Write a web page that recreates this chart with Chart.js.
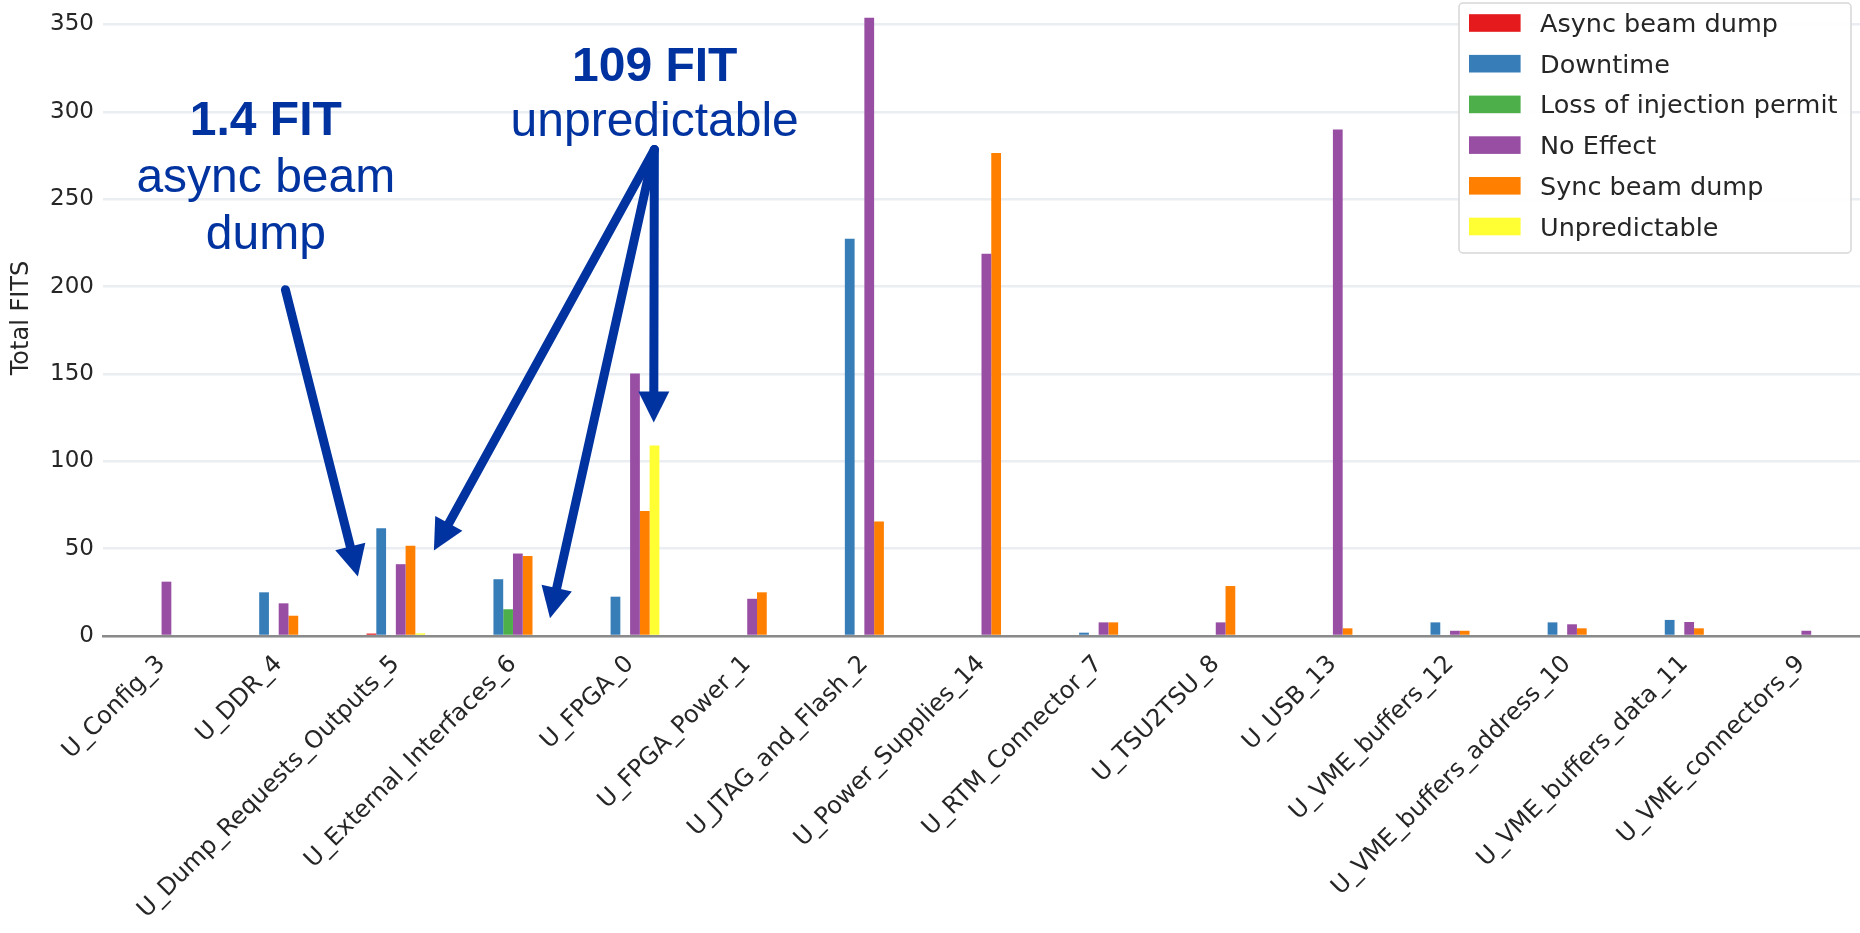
<!DOCTYPE html>
<html>
<head>
<meta charset="utf-8">
<script src="https://cdn.jsdelivr.net/npm/chart.js@4.4.1/dist/chart.umd.min.js"></script>
<style>
  html, body { margin: 0; padding: 0; background: #ffffff; }
  #wrap { width: 1860px; height: 933px; }
</style>
</head>
<body>
<div id="wrap"><canvas id="fits" width="1860" height="933"></canvas></div>
<script>
// Board functional blocks
const categories = [
  'U_Config_3', 'U_DDR_4', 'U_Dump_Requests_Outputs_5', 'U_External_Interfaces_6',
  'U_FPGA_0', 'U_FPGA_Power_1', 'U_JTAG_and_Flash_2', 'U_Power_Supplies_14',
  'U_RTM_Connector_7', 'U_TSU2TSU_8', 'U_USB_13', 'U_VME_buffers_12',
  'U_VME_buffers_address_10', 'U_VME_buffers_data_11', 'U_VME_connectors_9'
];

// Total FITS per failure effect (null = no contribution)
const asyncBeamDump   = [null, null, 1.4, null, null, null, null, null, null, null, null, null, null, null, null];
const downtime        = [null, 25.0, 61.7, 32.5, 22.5, null, 227.4, null, 1.9, null, null, 7.8, 7.8, 9.2, null];
const lossOfInjection = [null, null, null, 15.3, null, null, null, null, null, null, null, null, null, null, null];
const noEffect        = [31.1, 18.7, 41.1, 47.2, 150.3, 21.3, 353.8, 218.8, 7.8, 7.8, 289.9, 3.0, 6.7, 8.0, 3.0];
const syncBeamDump    = [null, 11.6, 51.7, 45.8, 71.6, 25.0, 65.5, 276.5, 7.8, 28.6, 4.4, 3.0, 4.4, 4.4, null];
const unpredictable   = [null, null, 1.5, null, 109, null, null, null, null, null, null, null, null, null, null];

const seriesNames  = ['Async beam dump', 'Downtime', 'Loss of injection permit', 'No Effect', 'Sync beam dump', 'Unpredictable'];
const seriesValues = [asyncBeamDump, downtime, lossOfInjection, noEffect, syncBeamDump, unpredictable];
const seriesColors = ['#e41a1c', '#377eb8', '#4daf4a', '#984ea3', '#ff7f00', '#ffff33'];

const yTickValues = [0, 50, 100, 150, 200, 250, 300, 350];

// Callout texts, placed in (category index, value) units
const CALLOUT_BLUE = '#0033a0';
const calloutTexts = [
  { i: 0.89, v: 287.0, text: asyncBeamDump[2] + ' FIT', bold: true },
  { i: 0.89, v: 253.9, text: 'async beam' },
  { i: 0.89, v: 221.7, text: 'dump' },
  { i: 4.21, v: 317.9, text: unpredictable[4] + ' FIT', bold: true },
  { i: 4.21, v: 286.0, text: 'unpredictable' }
];
const calloutArrows = [
  { from: [1.057, 198.2], to: [1.676, 34.0] },
  { from: [4.207, 278.4], to: [2.325, 48.9] },
  { from: [4.207, 278.4], to: [3.316, 10.1] },
  { from: [4.207, 278.4], to: [4.202, 122.2] }
];

function xAt(scale, idx) {
  const a = scale.getPixelForValue(0), b = scale.getPixelForValue(1);
  return a + (b - a) * idx;
}

function drawArrow(ctx, x0, y0, x1, y1) {
  const ang = Math.atan2(y1 - y0, x1 - x0);
  const headLen = 31, headHalf = 15.5;
  const bx = x1 - headLen * Math.cos(ang), by = y1 - headLen * Math.sin(ang);
  ctx.beginPath();
  ctx.moveTo(x0, y0);
  ctx.lineTo(bx + 2 * Math.cos(ang), by + 2 * Math.sin(ang));
  ctx.stroke();
  ctx.beginPath();
  ctx.moveTo(x1, y1);
  ctx.lineTo(bx + headHalf * Math.sin(ang), by - headHalf * Math.cos(ang));
  ctx.lineTo(bx - headHalf * Math.sin(ang), by + headHalf * Math.cos(ang));
  ctx.closePath();
  ctx.fill();
}

const calloutPlugin = {
  id: 'callouts',
  afterDatasetsDraw(chart) {
    const { ctx, scales: { x, y } } = chart;
    ctx.save();
    ctx.strokeStyle = CALLOUT_BLUE;
    ctx.fillStyle = CALLOUT_BLUE;
    ctx.lineWidth = 9;
    ctx.lineCap = 'round';
    calloutArrows.forEach(a => {
      drawArrow(ctx,
        xAt(x, a.from[0]), y.getPixelForValue(a.from[1]),
        xAt(x, a.to[0]), y.getPixelForValue(a.to[1]));
    });
    ctx.textAlign = 'center';
    ctx.textBaseline = 'alphabetic';
    calloutTexts.forEach(t => {
      ctx.font = (t.bold ? 'bold ' : '') + '48px "Liberation Sans", Arial, sans-serif';
      ctx.fillText(t.text, xAt(x, t.i), y.getPixelForValue(t.v));
    });
    ctx.restore();
  }
};

const legendBoxPlugin = {
  id: 'legendBox',
  afterDraw(chart) {
    const { ctx } = chart;
    const left = chart.width - 401, top = 3, w = 392, h = 250;
    ctx.save();
    ctx.fillStyle = 'rgba(255,255,255,0.92)';
    ctx.strokeStyle = '#d6d6d6';
    ctx.lineWidth = 1.5;
    ctx.beginPath();
    ctx.roundRect(left, top, w, h, 4);
    ctx.fill();
    ctx.stroke();
    ctx.font = '25.5px "DejaVu Sans", sans-serif';
    ctx.textAlign = 'left';
    ctx.textBaseline = 'alphabetic';
    chart.data.datasets.forEach((ds, k) => {
      const cy = top + 20 + k * 40.7;
      ctx.fillStyle = ds.backgroundColor;
      ctx.fillRect(left + 10, cy - 8.8, 51.6, 17.6);
      ctx.fillStyle = '#262626';
      ctx.fillText(ds.label, left + 81, cy + 9);
    });
    ctx.restore();
  }
};

const textColor = '#262626';

new Chart(document.getElementById('fits'), {
  type: 'bar',
  data: {
    labels: categories,
    datasets: seriesNames.map((name, k) => ({
      label: name,
      data: seriesValues[k],
      backgroundColor: seriesColors[k],
      borderWidth: 0,
      categoryPercentage: 0.5,
      barPercentage: 1.0
    }))
  },
  options: {
    responsive: false,
    animation: false,
    layout: { padding: { left: 0, right: -4, top: 0, bottom: 0 } },
    plugins: {
      legend: { display: false },
      tooltip: { enabled: false }
    },
    scales: {
      x: {
        grid: { display: false },
        border: { display: true, color: '#8a8a8a', width: 2.5 },
        ticks: {
          color: textColor,
          font: { family: '"DejaVu Sans", sans-serif', size: 24 },
          minRotation: 45,
          maxRotation: 45,
          autoSkip: false,
          padding: 6
        },
        afterFit(scale) {
          scale.height = 297;
          scale.paddingLeft = 0; scale.paddingRight = 0;
          scale.paddingTop = 0; scale.paddingBottom = 0;
        }
      },
      y: {
        min: 0,
        max: 364,
        grid: { color: '#eaeef2', lineWidth: 2.5, drawTicks: false },
        border: { display: false },
        afterBuildTicks(scale) {
          scale.ticks = yTickValues.map(v => ({ value: v }));
        },
        ticks: {
          color: textColor,
          font: { family: '"DejaVu Sans", sans-serif', size: 23 },
          padding: 9
        },
        title: {
          display: true,
          text: 'Total FITS',
          color: textColor,
          font: { family: '"DejaVu Sans", sans-serif', size: 24 },
          padding: { top: 7, bottom: 0 }
        },
        afterFit(scale) {
          scale.width = 103;
          scale.paddingTop = 0; scale.paddingBottom = 0;
          scale.paddingLeft = 0; scale.paddingRight = 0;
        }
      }
    }
  },
  plugins: [calloutPlugin, legendBoxPlugin]
});
</script>
</body>
</html>
